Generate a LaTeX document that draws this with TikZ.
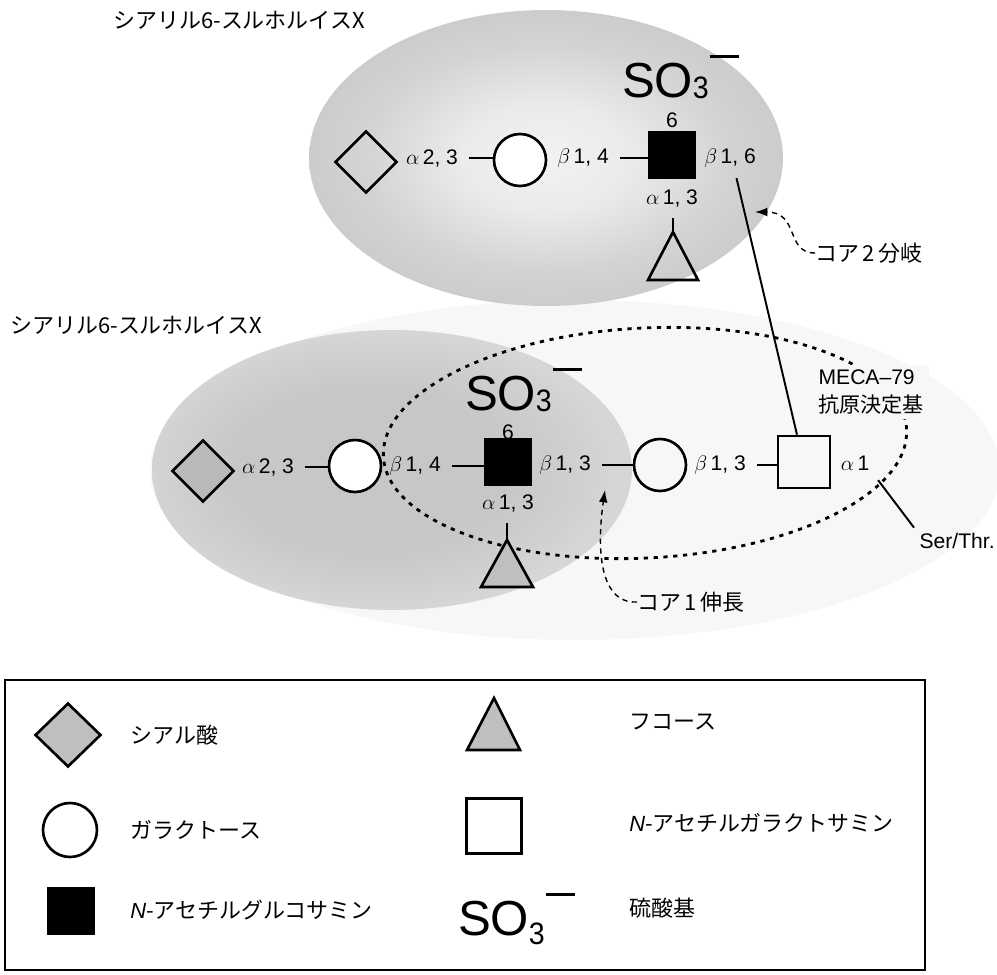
\documentclass[tikz,border=0pt]{standalone}
\usepackage{fontspec}
\usepackage{graphicx}
\setmainfont{Liberation Sans}
\newfontfamily\jp{Noto Sans CJK JP}
\usetikzlibrary{shapes.geometric,arrows.meta}
\newcommand\sothree{S\kern-0.01em O\raisebox{-0.03em}{\scalebox{0.58}[0.63]{3}}\kern0.03em\raisebox{0.8em}{\rule{0.59em}{0.06em}}}
\newcommand\sothreelow{S\kern-0.01em O\raisebox{-0.2em}{\scalebox{0.58}[0.63]{3}}\kern0.03em\raisebox{0.8em}{\rule{0.59em}{0.06em}}}
\pgfdeclareradialshading{ellA}{\pgfpoint{0bp}{0bp}}{color(0bp)=(gray!10); color(9bp)=(gray!16); color(19bp)=(gray!34); color(25bp)=(gray!40); color(50bp)=(gray!40)}
\pgfdeclareradialshading{ellB}{\pgfpoint{-3bp}{0bp}}{color(0bp)=(gray!44); color(14bp)=(gray!44); color(22bp)=(gray!36); color(25bp)=(gray!32); color(50bp)=(gray!32)}
\colorlet{faint}{gray!6}
\tikzset{
  sug/.style={draw=black, line width=1.5pt, inner sep=0pt},
  gal/.style={sug, circle, minimum size=1.04cm},
  glc/.style={sug, fill=black, rectangle, minimum size=0.9cm},
  gnc/.style={sug, rectangle, minimum size=1.04cm},
  sia/.style={sug, diamond, minimum width=1.24cm, minimum height=1.24cm},
  fuc/.style={draw=black, line width=1.5pt, line join=miter},
  lnk/.style={font=\fontsize{12}{15.5}\selectfont, inner sep=3pt},
  jt/.style={font=\fontsize{12.5}{15}\selectfont\jp, inner sep=0pt},
  bond/.style={line width=1.1pt, shorten <=3pt},
  so/.style={font=\fontsize{28}{30}\selectfont, inner sep=0pt, anchor=base west},
  darr/.style={line width=0.8pt, dash pattern=on 3pt off 2.5pt, -{Latex[length=7pt,width=5pt]}},
  dotell/.style={line width=1.6pt, dash pattern=on 2.4pt off 3.2pt},
}
\begin{document}
\begin{tikzpicture}[x=0.02cm,y=-0.02cm]
\useasboundingbox (0,0) rectangle (997,974);
% background regions
\fill[faint] (575,470) ellipse [x radius=8.5cm, y radius=3.4cm];
\shade[shading=ellA] (546,158) ellipse [x radius=4.74cm, y radius=2.96cm];
\shade[shading=ellB] (392,470) ellipse [x radius=4.8cm, y radius=2.8cm];
\draw[dotell] (645,443) ellipse [x radius=5.24cm, y radius=2.3cm, rotate=3];

% ---------- top structure ----------
\node[jt, anchor=west] (t1) at (113,20) {シアリル6-スルホルイスX};
\node[sia] (D1) at (366,162) {};
\node[lnk] (a1) at (432,158) {$\alpha$\,2, 3};
\node[gal, fill=white] (G1) at (520,160) {};
\node[lnk] (b1) at (583,158) {$\beta$\,1, 4};
\node[glc] (N1) at (672,155) {};
\node[lnk] (six1) at (672,120) {6};
\node[so] (S1) at (622,97) {\sothree};
\node[lnk] (b2) at (730,158) {$\beta$\,1, 6};
\node[lnk] (a2) at (672,198) {$\alpha$\,1, 3};
\draw[fuc] (673,232) coordinate (F1) -- (698,280) -- (648,280) -- cycle;
\draw[bond] (a1.east) -- (a1.east -| G1.west);
\draw[bond] (b1.east) -- (b1.east -| N1.west);
\draw[bond] (a2.south -| F1) -- (F1);
\node[jt, anchor=west] (c2) at (815,253) {コア\,2\,分岐};
\draw[darr] (c2.west) .. controls (785,253) and (800,212) .. (755,212);

% ---------- bottom structure ----------
\node[jt, anchor=west] (t2) at (10,325) {シアリル6-スルホルイスX};
\node[sia, fill=gray!55] (D2) at (203,471) {};
\node[lnk] (a3) at (268,467) {$\alpha$\,2, 3};
\node[gal, fill=white] (G2) at (355,466) {};
\node[lnk] (b3) at (415,466) {$\beta$\,1, 4};
\node[glc] (N2) at (508,462) {};
\node[lnk] (six2) at (508,432) {6};
\node[so] (S2) at (465,410) {\sothree};
\node[lnk] (b4) at (565,465) {$\beta$\,1, 3};
\node[gal] (G3) at (660,465) {};
\node[lnk] (b5) at (720,465) {$\beta$\,1, 3};
\node[gnc] (GN) at (804,462) {};
\node[lnk] (a5) at (855,463) {$\alpha$\,1};
\node[lnk, anchor=west] (ST) at (914,541) {Ser/Thr.};
\node[lnk, align=left, anchor=west, fill=faint] (MECA) at (813,392) {MECA–79\\{\jp 抗原決定基}};
\node[lnk] (a4) at (508,503) {$\alpha$\,1, 3};
\draw[fuc, fill=gray!50] (507,540) coordinate (F2) -- (533,587) -- (481,587) -- cycle;
\draw[bond] (a3.east) -- (a3.east -| G2.west);
\draw[bond] (b3.east) -- (b3.east -| N2.west);
\draw[bond] (b4.east) -- (b4.east -| G3.west);
\draw[bond] (b5.east) -- (b5.east -| GN.west);
\draw[bond] (a4.south -| F2) -- (F2);
\draw[bond] (a5.south east) -- (ST.north west);
\draw[bond] ([xshift=3pt]b2.south) -- ([xshift=-4pt]GN.north);
\node[jt, anchor=west] (c1) at (637,602) {コア\,1\,伸長};
\draw[darr] (c1.west) .. controls (598,604) and (597,545) .. (605,490);

% ---------- legend ----------
\draw[line width=1.2pt] (5,680) rectangle (925,970);
\node[sia, fill=gray!50, minimum width=1.32cm, minimum height=1.28cm] (LD) at (68,735) {};
\node[jt, anchor=west] (LDt) at (130,735) {シアル酸};
\draw[fuc, fill=gray!50] (494,698) coordinate (LF) -- (520,750) -- (467,750) -- cycle;
\node[jt, anchor=west] (LFt) at (629,722) {フコース};
\node[sug, circle, minimum width=1.06cm, minimum height=1.08cm] (LG) at (70,830) {};
\node[jt, anchor=west] (LGt) at (130,830) {ガラクトース};
\node[sug, rectangle, minimum size=1.1cm, fill=white] (LGN) at (494,826) {};
\node[jt, anchor=west] (LGNt) at (629,823) {{\normalfont\itshape N}-アセチルガラクトサミン};
\node[sug, rectangle, fill=black, minimum width=0.92cm, minimum height=0.9cm] (LN) at (71,911) {};
\node[jt, anchor=west] (LNt) at (130,910) {{\normalfont\itshape N}-アセチルグルコサミン};
\node[so] (LS) at (458,935) {\sothreelow};
\node[jt, anchor=west] (LSt) at (629,908) {硫酸基};
\end{tikzpicture}
\end{document}
